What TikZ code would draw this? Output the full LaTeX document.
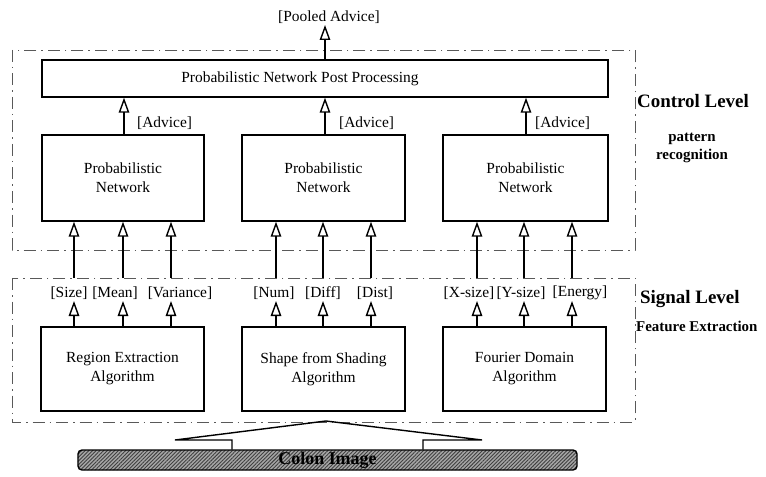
\documentclass[tikz,border=0pt]{standalone}
\usepackage{fontspec}
\setmainfont{Liberation Serif}
\usetikzlibrary{arrows.meta,patterns.meta}
\begin{document}
\begin{tikzpicture}[x=1bp,y=-1bp,
  region/.style={draw=black!65, line width=0.6bp, dash pattern=on 12bp off 5bp on 1.5bp off 5bp},
  blk/.style={draw, line width=1.4bp, fill=white, inner sep=0, align=center,
    font=\fontsize{15.5}{19}\selectfont},
  txt/.style={font=\fontsize{15.5}{19}\selectfont, align=center, inner sep=0},
  lvl/.style={font=\fontsize{19}{22}\selectfont\bfseries, anchor=west, inner sep=0},
  sublvl/.style={font=\fontsize{15}{18}\selectfont\bfseries, align=center, inner sep=0},
  up/.style={line width=1.4bp, -{Triangle[open, length=15bp, width=10.5bp, line width=1.4bp]}},
]
\useasboundingbox (0,0) rectangle (766,477);

% level regions
\draw[region] (12,50) rectangle (635,250);
\draw[region] (12,278) rectangle (635,422);

% boxes
\node[blk, minimum width=566bp, minimum height=37bp] (post) at (325,78.5) {};
\node[txt] (posttxt) at (300,79) {Probabilistic Network Post Processing};

\node[blk, minimum width=162bp, minimum height=86bp] (net1) at (123,178) {Probabilistic\\Network};
\node[blk, minimum width=163bp, minimum height=86bp] (net2) at (323.5,178) {Probabilistic\\Network};
\node[blk, minimum width=165bp, minimum height=86bp] (net3) at (525.5,178) {Probabilistic\\Network};

\node[blk, minimum width=163bp, minimum height=84bp] (alg1) at (122.5,369) {Region Extraction\\Algorithm};
\node[blk, minimum width=163bp, minimum height=84bp] (alg2) at (323.5,369) {Shape from Shading\\Algorithm};
\node[blk, minimum width=163bp, minimum height=84bp] (alg3) at (524.5,369) {Fourier Domain\\Algorithm};

% pooled advice
\coordinate (pooltip) at (325,25);
\draw[up] (post.north) -- (pooltip);
\node[txt] (pooled) at (329,17) {[Pooled Advice]};

% advice arrows
\draw[up] (124,0 |- net1.north) -- (124,0 |- post.south);
\draw[up] (325,0 |- net2.north) -- (325,0 |- post.south);
\draw[up] (526,0 |- net3.north) -- (526,0 |- post.south);
\node[txt, anchor=west] (adv1) at (137,123) {[Advice]};
\node[txt, anchor=west] (adv2) at (339,123) {[Advice]};
\node[txt, anchor=west] (adv3) at (535,123) {[Advice]};

% feature inputs into networks
\foreach \nm/\x/\net in {a/74/net1, b/123/net1, c/171/net1, d/276/net2, e/323/net2, f/371/net2, g/477/net3, h/524/net3, i/572/net3}{
  \coordinate (s\nm) at (\x,278);
  \draw[up] (s\nm) -- (s\nm |- \net.south);
  \coordinate (t\nm) at (\x,301);
}
\foreach \nm/\alg in {a/alg1, b/alg1, c/alg1, d/alg2, e/alg2, f/alg2, g/alg3, h/alg3, i/alg3}{
  \draw[up] (t\nm |- \alg.north) -- (t\nm);
}

% feature labels
\node[txt] (lsize) at (69,293) {[Size]};
\node[txt] (lmean) at (115,293) {[Mean]};
\node[txt] (lvar) at (180,293) {[Variance]};
\node[txt] (lnum) at (274,293) {[Num]};
\node[txt] (ldiff) at (323,293) {[Diff]};
\node[txt] (ldist) at (375,293) {[Dist]};
\node[txt] (lxs) at (469,293) {[X-size]};
\node[txt] (lys) at (521,293) {[Y-size]};
\node[txt] (len) at (580,293) {[Energy]};

% level captions
\node[lvl] (ctrl) at (637,101) {Control Level};
\node[sublvl] (patt) at (692,148) {pattern\\recognition};
\node[lvl] (sig) at (640,299) {Signal Level};
\node[sublvl, anchor=west] (feat) at (636,326) {Feature Extraction};

% colon image
\node[draw, line width=1.4bp, rounded corners=4bp, minimum width=499bp, minimum height=20bp,
  preaction={fill=black!35},
  pattern={Lines[angle=45, distance=2.6bp, line width=0.9bp]}, pattern color=black!75, inner sep=0,
  font=\fontsize{18}{20}\selectfont\bfseries] (colon) at (327.5,460) {Colon Image};
\draw[line width=1.4bp] (232,0 |- colon.north) -- (232,440) -- (175,440) -- (326,421)
  -- (482,440) -- (423,440) -- (423,0 |- colon.north);
\end{tikzpicture}
\end{document}
